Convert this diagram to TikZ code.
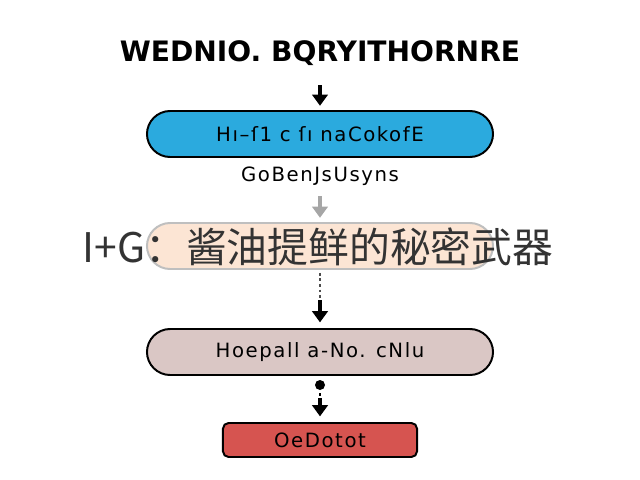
\documentclass[tikz,border=0pt]{standalone}
\usepackage{fontspec}
\setmainfont{Liberation Sans}
\newfontfamily\etiq[LetterSpace=8]{DejaVu Sans}
\newfontfamily\titrefont{DejaVu Sans}
\newfontfamily\cjk{Noto Sans CJK SC}
\usetikzlibrary{arrows.meta}
\definecolor{pillblue}{RGB}{43,170,222}
\definecolor{pillpeach}{RGB}{252,229,212}
\definecolor{pillrose}{RGB}{218,199,197}
\definecolor{boxred}{RGB}{214,84,80}
\begin{document}
\begin{tikzpicture}[x=0.025cm, y=-0.025cm]
\tikzset{pilule/.style={draw, line width=1.4pt, rounded corners=0.58cm, minimum width=8.65cm, minimum height=1.15cm, font=\etiq\fontsize{14}{16}\selectfont},
fleche/.style={line width=2.2pt, -{Triangle[width=11pt, length=8pt]}}}
\useasboundingbox (0, 0) rectangle (640, 480);
\fill[white] (0, 0) rectangle (640, 480);
\node[font=\titrefont\bfseries\fontsize{20}{23}\selectfont] (titre) at (320, 53) {WEDNIO. BQRYITHORNRE};
\node[pilule, fill=pillblue] (bleu) at (320, 134) {Hı–ſ1 c ſı naCokofE};
\node[font=\etiq\fontsize{14}{16}\selectfont] (sous) at (320, 176) {GoBenJsUsyns};
\node[pilule, fill=pillpeach, draw=black!25] (peche) at (320, 246) {};
\node[pilule, fill=pillrose] (rose) at (320, 352) {Hoepall a-No. cNlu};
\node[draw, line width=1.4pt, fill=boxred, rounded corners=4pt, minimum width=4.85cm, minimum height=0.85cm, font=\etiq\fontsize{14}{16}\selectfont] (rouge) at (320, 440) {OeDotot};
\coordinate (point) at (320, 385);
\draw[fleche] (320, 85) -- ([yshift=3pt]bleu.north);
\draw[fleche, black!35] (320, 196) -- ([yshift=3pt]peche.north);
\draw[line width=2pt, dotted, black!70] ([yshift=-2pt]peche.south) -- (320, 305);
\draw[fleche] (320, 300) -- ([yshift=4pt]rose.north);
\fill (point) circle (5);
\draw[line width=2pt, dotted] (point) ++(0, 8) -- (320, 405);
\draw[fleche] (320, 398) -- ([yshift=4pt]rouge.north);
\node[font=\cjk\fontsize{29}{32}\selectfont, text=black!80] (filigrane) at (318, 247) {I+G：酱油提鲜的秘密武器};
\end{tikzpicture}
\end{document}
